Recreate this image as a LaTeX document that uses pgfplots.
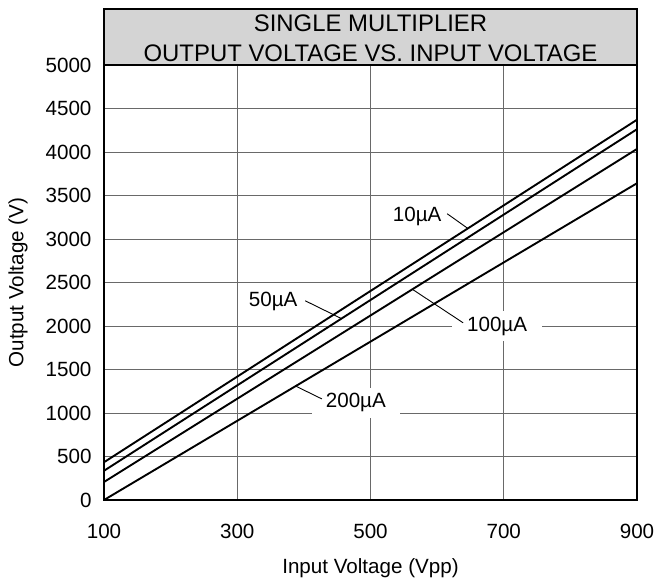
\documentclass[border=0pt]{standalone}
\usepackage{fontspec}
\setmainfont{Liberation Sans}
\usepackage{pgfplots}
\pgfplotsset{compat=1.18}
\definecolor{titlegray}{RGB}{212,212,212}
\definecolor{gridgray}{RGB}{105,105,105}
\begin{document}
\begin{tikzpicture}
\begin{axis}[
  scale only axis,
  width=533pt, height=435pt,
  xmin=100, xmax=900, ymin=0, ymax=5000,
  xtick={100,300,500,700,900},
  ytick={0,500,...,5000},
  major tick length=0pt,
  grid=major,
  major grid style={gridgray, line width=0.9pt},
  axis line style={line width=2.2pt},
  clip=false,
  font=\fontsize{20.6}{24}\selectfont,
  /pgf/number format/assume math mode=true,
  /pgf/number format/set thousands separator={},
  xticklabel style={yshift=-21pt},
  yticklabel style={xshift=-9pt},
  xlabel={Input Voltage (Vpp)},
  ylabel={Output Voltage (V)},
  xlabel style={at={(axis description cs:0.5,-0.156)}, anchor=center},
  ylabel style={at={(axis description cs:-0.1614,0.5)}, anchor=center},
]
% title box
\draw[line width=2.2pt, fill=titlegray] (rel axis cs:0,1) rectangle ([yshift=56pt]rel axis cs:1,1);
\node[anchor=base, font=\fontsize{23.9}{28}\selectfont] at ([yshift=33pt]rel axis cs:0.5,1) {SINGLE MULTIPLIER};
\node[anchor=base, font=\fontsize{23.9}{28}\selectfont] at ([yshift=3pt]rel axis cs:0.5,1) {OUTPUT VOLTAGE VS. INPUT VOLTAGE};
% labels
\node[fill=white, inner xsep=15pt, inner ysep=6pt] at (axis cs:690,2000) {100µA};
\node[fill=white, inner xsep=14pt, inner ysep=6pt] at (axis cs:478,1116) {200µA};
\node[inner sep=0pt] at (axis cs:570,3256) {10µA};
\node[inner sep=0pt] at (axis cs:354,2278) {50µA};
% leaders
\draw[line width=0.9pt] (axis cs:615,3291) -- (axis cs:646,3122);
\draw[line width=0.9pt] (axis cs:564,2416) -- (axis cs:639,2037);
\draw[line width=0.9pt] (axis cs:402,2290) -- (axis cs:457,2083);
\draw[line width=0.9pt] (axis cs:387,1312) -- (axis cs:427,1162);
% data
\addplot[black, line width=1.9pt] coordinates {(100,434) (900,4371)};
\addplot[black, line width=1.9pt] coordinates {(100,336) (900,4262)};
\addplot[black, line width=1.9pt] coordinates {(100,207) (900,4035)};
\addplot[black, line width=1.9pt] coordinates {(100,0) (900,3641)};
\end{axis}
\pgfresetboundingbox
\path[use as bounding box] (-104pt,-84pt) rectangle (554pt,500pt);
\end{tikzpicture}
\end{document}
